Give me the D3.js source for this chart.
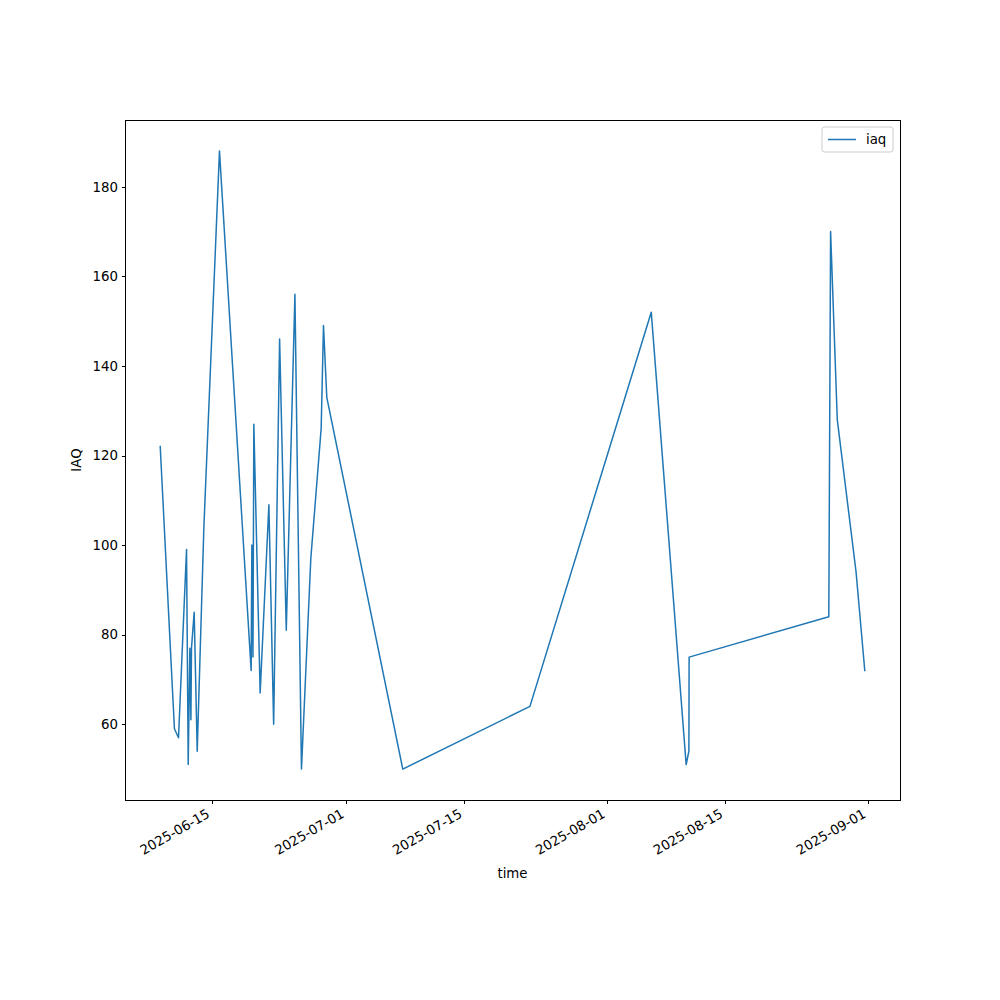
<!DOCTYPE html>
<html>
<head>
<meta charset="utf-8">
<script src="https://cdn.jsdelivr.net/npm/d3@7"></script>
<style>
  html, body { margin: 0; padding: 0; background: #fff; }
  svg { display: block; }
  text { font-family: "DejaVu Sans", sans-serif; }
</style>
</head>
<body>
<div id="chart"></div>
<script>
// ---- data ----
const times = [
  "2025-06-08T21:30Z", "2025-06-10T14:00Z", "2025-06-11T01:40Z", "2025-06-12T00:30Z",
  "2025-06-12T05:20Z", "2025-06-12T10:00Z", "2025-06-12T13:00Z", "2025-06-12T14:40Z",
  "2025-06-12T22:20Z", "2025-06-13T07:00Z", "2025-06-14T02:00Z", "2025-06-15T22:30Z",
  "2025-06-19T16:50Z", "2025-06-19T18:50Z", "2025-06-19T22:00Z", "2025-06-20T00:30Z",
  "2025-06-20T18:30Z", "2025-06-21T19:25Z", "2025-06-22T09:00Z", "2025-06-23T02:00Z",
  "2025-06-23T21:00Z", "2025-06-24T21:40Z", "2025-06-25T16:20Z", "2025-06-26T19:00Z",
  "2025-06-28T00:30Z", "2025-06-28T07:10Z", "2025-06-28T16:35Z", "2025-07-07T17:20Z",
  "2025-07-22T20:00Z", "2025-08-06T06:00Z", "2025-08-10T09:35Z", "2025-08-10T17:20Z",
  "2025-08-10T18:00Z", "2025-08-27T08:25Z", "2025-08-27T13:30Z", "2025-08-28T08:35Z",
  "2025-08-30T14:10Z", "2025-08-31T15:00Z"
];
const iaq = [
  122, 59, 57, 99,
  51, 77, 61, 77,
  85, 54, 104, 188,
  72, 100, 75, 127,
  67, 109, 60, 146,
  81, 156, 50, 97,
  126, 149, 133, 50,
  64, 152, 51, 54,
  75, 84, 170, 128,
  94, 72
];
const xTickDates = ["2025-06-15", "2025-07-01", "2025-07-15", "2025-08-01", "2025-08-15", "2025-09-01"];
const yTicks = [60, 80, 100, 120, 140, 160, 180];
const seriesName = "iaq";
const xLabel = "time";
const yLabel = "IAQ";

// ---- layout ----
const W = 1000, H = 1000;
const M = { left: 125, right: 900, top: 120, bottom: 800 };
const color = "#1f77b4";
const fontSize = 13.33;

const data = times.map((t, i) => ({ t: new Date(t), v: iaq[i] }));

const svg = d3.select("#chart").append("svg")
  .attr("width", W).attr("height", H);

// domains with matplotlib-like 5% margins
const tExt = d3.extent(data, d => d.t.getTime());
const tPad = (tExt[1] - tExt[0]) * 0.05;
const vExt = d3.extent(data, d => d.v);
const vPad = (vExt[1] - vExt[0]) * 0.05;

const x = d3.scaleUtc()
  .domain([new Date(tExt[0] - tPad), new Date(tExt[1] + tPad)])
  .range([M.left, M.right]);
const y = d3.scaleLinear()
  .domain([vExt[0] - vPad, vExt[1] + vPad])
  .range([M.bottom, M.top]);

// line
const line = d3.line().x(d => x(d.t)).y(d => y(d.v));
svg.append("path")
  .datum(data)
  .attr("fill", "none")
  .attr("stroke", color)
  .attr("stroke-width", 1.5)
  .attr("stroke-linejoin", "round")
  .attr("stroke-linecap", "square")
  .attr("d", line);

// frame
svg.append("rect")
  .attr("x", M.left + 0.5).attr("y", M.top + 0.5)
  .attr("width", M.right - M.left).attr("height", M.bottom - M.top)
  .attr("fill", "none").attr("stroke", "#000").attr("stroke-width", 1);

// x axis
const xTickVals = xTickDates.map(s => new Date(s + "T00:00Z"));
const fmt = d3.utcFormat("%Y-%m-%d");
const xAxis = d3.axisBottom(x).tickValues(xTickVals).tickSize(3.5).tickPadding(3.5).tickFormat(fmt);
const gx = svg.append("g").attr("transform", `translate(0,${M.bottom})`).call(xAxis);
gx.select(".domain").remove();
gx.selectAll(".tick line").attr("stroke", "#000").attr("stroke-width", 1).attr("shape-rendering", "crispEdges");
gx.selectAll(".tick text")
  .attr("font-size", fontSize)
  .attr("font-family", "DejaVu Sans, sans-serif")
  .attr("fill", "#000")
  .attr("text-anchor", "end")
  .attr("x", 0).attr("y", 0).attr("dy", 0)
  .attr("transform", "translate(-1.5,16.5) rotate(-30)");

// y axis
const yAxis = d3.axisLeft(y).tickValues(yTicks).tickSize(3.5).tickPadding(3.5);
const gy = svg.append("g").attr("transform", `translate(${M.left},0)`).call(yAxis);
gy.select(".domain").remove();
gy.selectAll(".tick line").attr("stroke", "#000").attr("stroke-width", 1).attr("shape-rendering", "crispEdges");
gy.selectAll(".tick text")
  .attr("font-size", fontSize)
  .attr("font-family", "DejaVu Sans, sans-serif")
  .attr("fill", "#000");

// axis labels
svg.append("text")
  .attr("x", (M.left + M.right) / 2).attr("y", 878)
  .attr("text-anchor", "middle")
  .attr("font-size", fontSize)
  .text(xLabel);
svg.append("text")
  .attr("transform", `translate(81,${(M.top + M.bottom) / 2}) rotate(-90)`)
  .attr("text-anchor", "middle")
  .attr("font-size", fontSize)
  .text(yLabel);

// legend
const lg = svg.append("g").attr("transform", "translate(822,127)");
lg.append("rect")
  .attr("x", 0).attr("y", 0).attr("width", 71).attr("height", 25)
  .attr("rx", 2.5).attr("ry", 2.5)
  .attr("fill", "#fff").attr("fill-opacity", 0.8)
  .attr("stroke", "#cccccc").attr("stroke-width", 1);
lg.append("line")
  .attr("x1", 6).attr("x2", 34).attr("y1", 12.5).attr("y2", 12.5)
  .attr("stroke", color).attr("stroke-width", 1.5);
lg.append("text")
  .attr("x", 44).attr("y", 17)
  .attr("font-size", fontSize)
  .text(seriesName);
</script>
</body>
</html>
